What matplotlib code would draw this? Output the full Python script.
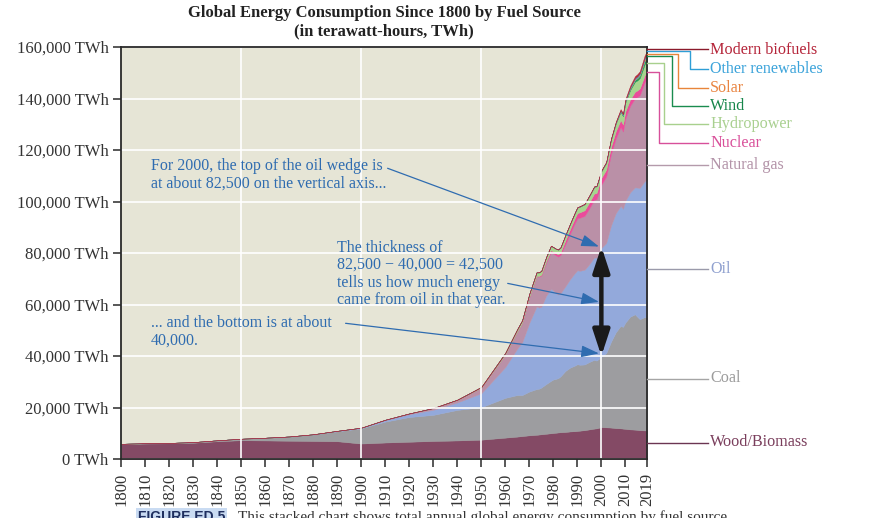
import matplotlib
matplotlib.use("Agg")
import matplotlib.pyplot as plt
from matplotlib.lines import Line2D

plt.rcParams['font.family'] = ['Liberation Serif', 'DejaVu Serif']

# ---------------- data (TWh) ----------------
years = [1800, 1810, 1820, 1830, 1840, 1850, 1860, 1870, 1880, 1890, 1900, 1910, 1920, 1930, 1940, 1950, 1960,
         1965, 1967, 1970, 1973, 1974, 1975, 1977, 1979, 1980, 1981, 1982, 1983, 1985, 1987, 1989, 1990, 1991,
         1993, 1995, 1997, 1998, 2000, 2002, 2004, 2006, 2008, 2009, 2010, 2012, 2014, 2015, 2016, 2018, 2019]

wood = [5800, 6000, 6100, 6300, 6900, 7300, 7200, 7100, 7000, 6900, 6000, 6400, 6700, 7000, 7200, 7500, 8300,
        8700, 8900, 9200, 9400, 9500, 9600, 9800, 10000, 10100, 10200, 10300, 10400, 10500, 10700, 10800, 10900,
        11000, 11200, 11500, 11800, 11900, 12400, 12300, 12200, 12000, 11900, 11800, 11700, 11500, 11400, 11300,
        11200, 11100, 11100]

coal = [100, 130, 150, 260, 360, 570, 1060, 1640, 2540, 3860, 5900, 8110, 9600, 10130, 11860, 12600, 15440,
        16140, 15900, 17000, 17750, 17800, 18150, 19300, 20350, 20800, 20900, 21100, 21700, 23700, 24800, 25500,
        25900, 25600, 25500, 26200, 26700, 26300, 27300, 28800, 33300, 37200, 39800, 39500, 41300, 43800, 44800,
        43900, 43100, 44000, 43850]

oil = [0, 0, 0, 0, 0, 0, 0, 6, 33, 89, 181, 556, 1111, 1972, 2917, 5444, 12000,
       18100, 20500, 26700, 32100, 31500, 31400, 34300, 35800, 34500, 33400, 32500, 32300, 32900, 34400, 36000,
       36500, 36500, 36800, 38000, 39800, 40000, 42300, 42800, 45200, 46300, 46600, 45900, 47300, 48300, 49300,
       50200, 51000, 52800, 53400]

gas = [0, 0, 0, 0, 0, 0, 0, 0, 33, 89, 64, 156, 233, 575, 875, 2092, 4800,
       6600, 7500, 10000, 11700, 12000, 12100, 12900, 14300, 14400, 14600, 14700, 14900, 16300, 17700, 19400,
       20200, 20600, 20900, 21700, 22400, 22700, 24600, 25800, 27700, 29000, 30600, 30000, 32000, 33600, 34600,
       35200, 36000, 38400, 39300]

nuclear = [0] * 17 + [26, 40, 80, 200, 250, 380, 580, 700, 710, 830, 900, 1020, 1480, 1740, 1910, 2000, 2100,
                      2190, 2320, 2390, 2430, 2580, 2660, 2780, 2800, 2730, 2700, 2760, 2470, 2540, 2570, 2610,
                      2710, 2800]

hydro = [0, 0, 0, 0, 0, 0, 0, 0, 0, 0, 10, 30, 60, 120, 190, 340, 690,
         920, 1000, 1180, 1310, 1410, 1440, 1500, 1660, 1720, 1740, 1790, 1860, 1980, 2030, 2080, 2150, 2210,
         2340, 2480, 2580, 2600, 2650, 2650, 2810, 3020, 3210, 3240, 3440, 3660, 3890, 3880, 4020, 4190, 4220]

wind = [0] * 32 + [4, 4, 6, 8, 12, 16, 31, 52, 85, 133, 221, 276, 342, 522, 706, 831, 962, 1270, 1420]

solar = [0] * 38 + [1, 2, 3, 6, 12, 20, 32, 97, 190, 256, 329, 578, 724]

other_renew = [0] * 17 + [20, 22, 26, 32, 34, 36, 40, 46, 50, 55, 60, 66, 80, 95, 110, 125, 130, 140, 155, 170,
                          175, 185, 200, 235, 265, 295, 315, 345, 400, 460, 490, 520, 570, 590]

biofuels = [0] * 25 + [10, 15, 20, 30, 45, 55, 55, 55, 60, 60, 65, 70, 70, 110, 130, 170, 290, 500, 560, 640,
                       690, 820, 850, 880, 1030, 1110]

series = [wood, coal, oil, gas, nuclear, hydro, wind, solar, other_renew, biofuels]
labels = ["Wood/Biomass", "Coal", "Oil", "Natural gas", "Nuclear", "Hydropower", "Wind", "Solar",
          "Other renewables", "Modern biofuels"]

x_ticks = [1800, 1810, 1820, 1830, 1840, 1850, 1860, 1870, 1880, 1890, 1900, 1910, 1920, 1930, 1940, 1950,
           1960, 1970, 1980, 1990, 2000, 2010, 2019]
y_ticks = [0, 20000, 40000, 60000, 80000, 100000, 120000, 140000, 160000]

# ---------------- styling ----------------
fill_colors = ['#844A65', '#9D9DA0', '#93A9DB', '#BA90A7', '#EA4C9B', '#A6D48E', '#1B9A5A', '#F08A3C',
               '#38A8DC', '#B22A3A']
label_colors = ['#7A3E5C', '#9B9B9B', '#8FA0CF', '#B393A8', '#D9509A', '#A9D090', '#17864B', '#E98542',
                '#3BA3DA', '#B5253A']
line_colors = ['#6B3552', '#A5A5A5', '#9A9AAA', '#B49AAB', '#D7509A', '#A8D08D', '#1A8C4F', '#E8853A',
               '#2E9ED6', '#8B1A2B']

W, H = 872, 518
fig = plt.figure(figsize=(W / 100, H / 100), dpi=100)
fig.patch.set_facecolor('white')
ax = fig.add_axes([121 / W, 1 - 459 / H, 526 / W, 412 / H])
ax.set_facecolor('#E6E5D6')

ax.stackplot(years, *series, colors=fill_colors, linewidth=0.3, edgecolor='face', zorder=1)

ax.set_xlim(1800, 2019)
ax.set_ylim(0, 160000)

for gx in [1850, 1900, 1950, 2000]:
    ax.axvline(gx, color='white', lw=1.2, zorder=1.5)
ax.yaxis.grid(True, color='white', lw=1.2, zorder=1.5)
ax.set_axisbelow('line')

ax.set_xticks(x_ticks)
ax.set_xticklabels([str(v) for v in x_ticks], rotation=90)
ax.set_yticks(y_ticks)
ax.set_yticklabels([f"{v:,} TWh" for v in y_ticks])
ax.tick_params(axis='both', direction='out', length=6, width=1.1, color='#2a2a2a',
               labelsize=12, labelcolor='#333333', pad=3)
ax.tick_params(axis='x', pad=4)
for s in ax.spines.values():
    s.set_color('#2a2a2a')
    s.set_linewidth(1.3)

# ---------------- annotations ----------------
blue = '#2F6CB0'
afs = 11.5
ax.text(1812.4, 110300, "For 2000, the top of the oil wedge is\nat about 82,500 on the vertical axis...",
        color=blue, fontsize=afs, ha='left', va='center', linespacing=1.13, zorder=5)
ax.text(1890.1, 71900, "The thickness of\n82,500 \u2212 40,000 = 42,500\ntells us how much energy\ncame from oil in that year.",
        color=blue, fontsize=afs, ha='left', va='center', linespacing=1.13, zorder=5)
ax.text(1812.4, 49400, "... and the bottom is at about\n40,000.",
        color=blue, fontsize=afs, ha='left', va='center', linespacing=1.13, zorder=5)

arrow_kw = dict(arrowstyle='-|>,head_length=0.9,head_width=0.3', color=blue, lw=0.9,
                mutation_scale=12, shrinkA=0, shrinkB=0)
ax.annotate('', xy=(1999, 82500), xytext=(1911.0, 112900), arrowprops=arrow_kw, zorder=6)
ax.annotate('', xy=(1999, 61000), xytext=(1961.0, 68200), arrowprops=arrow_kw, zorder=6)
ax.annotate('', xy=(1999, 41000), xytext=(1893.5, 52700), arrowprops=arrow_kw, zorder=6)

ax.annotate('', xy=(2000, 82500), xytext=(2000, 40000),
            arrowprops=dict(arrowstyle='<|-|>,head_length=0.85,head_width=0.28', color='#1a1a1a', lw=3.2,
                            mutation_scale=18, shrinkA=0, shrinkB=0), zorder=7)

# ---------------- right-side labels with leader lines (pixel layout) ----------------
def fx(x):
    return x / W


def fy(y):
    return 1 - y / H


# order: Wood, Coal, Oil, Gas, Nuclear, Hydro, Wind, Solar, Other, Biofuels
start_y = [442.5, 378.5, 269, 165, 71.5, 63, 56, 53.5, 51.3, 49]
elbow_x = [None, None, None, None, 659, 664, 671.5, 678, 690, None]
label_y = [442.5, 378.5, 269, 165, 143, 124, 106, 88, 69, 50]
x0, x1, xt = 647, 708, 710

for lab, sy, ex, ly, lc, tc in zip(labels, start_y, elbow_x, label_y, line_colors, label_colors):
    if ex is None:
        pts = [(x0, sy), (x1, sy)]
    else:
        pts = [(x0, sy), (ex, sy), (ex, ly), (x1, ly)]
    fig.add_artist(Line2D([fx(p[0]) for p in pts], [fy(p[1]) for p in pts], color=lc, lw=1.0,
                          transform=fig.transFigure))
    fig.text(fx(xt), fy(ly), lab, color=tc, fontsize=11.6, ha='left', va='center')

# ---------------- title ----------------
fig.text(fx(384), fy(13), "Global Energy Consumption Since 1800 by Fuel Source", ha='center', va='center',
         fontsize=12, fontweight='bold', color='#222222')
fig.text(fx(384), fy(31), "(in terawatt-hours, TWh)", ha='center', va='center',
         fontsize=12, fontweight='bold', color='#222222')

# ---------------- cut-off caption at bottom (as in the reference) ----------------
fig.text(fx(138), fy(510), "FIGURE ED.5", ha='left', va='top', fontsize=10, fontweight='bold',
         family=['Liberation Sans', 'DejaVu Sans'], color='#1F2F5F',
         bbox=dict(boxstyle='square,pad=0.15', facecolor='#C9DBF2', edgecolor='none'))
fig.text(fx(238), fy(510), "This stacked chart shows total annual global energy consumption by fuel source.",
         ha='left', va='top', fontsize=11, color='#333333')

fig.savefig('out.png', dpi=100)
